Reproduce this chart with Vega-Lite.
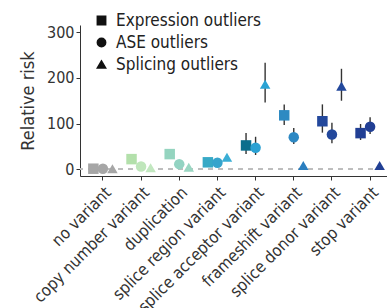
{
  "$schema": "https://vega.github.io/schema/vega-lite/v6.json",
  "autosize": "none",
  "width": 313,
  "height": 151,
  "padding": {"left": 80, "top": 25, "right": 0, "bottom": 132},
  "background": "white",
  "config": {
    "view": {"stroke": null},
    "font": "DejaVu Sans Condensed, Liberation Sans, sans-serif",
    "axis": {"grid": false, "domainColor": "#333333", "tickColor": "#333333", "labelColor": "#333333", "titleColor": "#333333", "labelFont": "DejaVu Sans Condensed, Liberation Sans, sans-serif", "titleFont": "DejaVu Sans Condensed, Liberation Sans, sans-serif", "titleFontWeight": "normal", "domainWidth": 1, "tickWidth": 1, "tickSize": 4}
  },
  "data": {
    "values": [
      {"variant": "no variant", "outlier": "Expression outliers", "rr": 1, "lo": null, "hi": null},
      {"variant": "no variant", "outlier": "ASE outliers", "rr": 1, "lo": null, "hi": null},
      {"variant": "no variant", "outlier": "Splicing outliers", "rr": 1, "lo": null, "hi": null},
      {"variant": "copy number variant", "outlier": "Expression outliers", "rr": 22, "lo": null, "hi": null},
      {"variant": "copy number variant", "outlier": "ASE outliers", "rr": 6, "lo": null, "hi": null},
      {"variant": "copy number variant", "outlier": "Splicing outliers", "rr": 3, "lo": null, "hi": null},
      {"variant": "duplication", "outlier": "Expression outliers", "rr": 33, "lo": 29, "hi": 38},
      {"variant": "duplication", "outlier": "ASE outliers", "rr": 11, "lo": null, "hi": null},
      {"variant": "duplication", "outlier": "Splicing outliers", "rr": 4, "lo": null, "hi": null},
      {"variant": "splice region variant", "outlier": "Expression outliers", "rr": 15, "lo": null, "hi": null},
      {"variant": "splice region variant", "outlier": "ASE outliers", "rr": 14, "lo": null, "hi": null},
      {"variant": "splice region variant", "outlier": "Splicing outliers", "rr": 26, "lo": null, "hi": null},
      {"variant": "splice acceptor variant", "outlier": "Expression outliers", "rr": 52, "lo": 33, "hi": 79},
      {"variant": "splice acceptor variant", "outlier": "ASE outliers", "rr": 47, "lo": 31, "hi": 71},
      {"variant": "splice acceptor variant", "outlier": "Splicing outliers", "rr": 186, "lo": 146, "hi": 233},
      {"variant": "frameshift variant", "outlier": "Expression outliers", "rr": 118, "lo": 97, "hi": 142},
      {"variant": "frameshift variant", "outlier": "ASE outliers", "rr": 70, "lo": 55, "hi": 90},
      {"variant": "frameshift variant", "outlier": "Splicing outliers", "rr": 8, "lo": null, "hi": null},
      {"variant": "splice donor variant", "outlier": "Expression outliers", "rr": 105, "lo": 80, "hi": 142},
      {"variant": "splice donor variant", "outlier": "ASE outliers", "rr": 76, "lo": 57, "hi": 102},
      {"variant": "splice donor variant", "outlier": "Splicing outliers", "rr": 182, "lo": 150, "hi": 220},
      {"variant": "stop variant", "outlier": "Expression outliers", "rr": 79, "lo": 64, "hi": 99},
      {"variant": "stop variant", "outlier": "ASE outliers", "rr": 93, "lo": 77, "hi": 114},
      {"variant": "stop variant", "outlier": "Splicing outliers", "rr": 8, "lo": null, "hi": null}
    ]
  },
  "transform": [{"calculate": "datum.variant + '|' + datum.outlier", "as": "key"}],
  "encoding": {
    "x": {
      "field": "variant", "type": "nominal",
      "scale": {"type": "band", "paddingInner": 0, "paddingOuter": 0.1, "domain": ["no variant", "copy number variant", "duplication", "splice region variant", "splice acceptor variant", "frameshift variant", "splice donor variant", "stop variant"]},
      "axis": {"title": null, "labelAngle": -45, "labelAlign": "right", "labelBaseline": "top", "labelFontSize": 16.5, "labelPadding": 4}
    },
    "xOffset": {
      "field": "outlier", "type": "nominal",
      "scale": {"type": "point", "domain": ["Expression outliers", "ASE outliers", "Splicing outliers"], "padding": 1.72}
    }
  },
  "layer": [
    {
      "mark": {"type": "rule", "color": "#bdbdbd", "strokeWidth": 1.5, "strokeDash": [5, 5]},
      "encoding": {"x": null, "xOffset": null, "y": {"datum": 0}}
    },
    {
      "transform": [{"filter": "datum.lo != null"}],
      "mark": {"type": "rule", "color": "#333333", "strokeWidth": 1.4},
      "encoding": {
        "y": {"field": "lo", "type": "quantitative"},
        "y2": {"field": "hi"}
      }
    },
    {
      "mark": {"type": "point", "filled": true, "opacity": 1, "size": 110},
      "encoding": {
        "y": {
          "field": "rr", "type": "quantitative",
          "scale": {"domain": [-15, 316], "nice": false, "zero": false},
          "axis": {"title": "Relative risk", "values": [0, 100, 200, 300], "labelFontSize": 16, "titleFontSize": 18, "titlePadding": 9}
        },
        "shape": {
          "field": "outlier", "type": "nominal",
          "scale": {"domain": ["Expression outliers", "ASE outliers", "Splicing outliers"], "range": ["square", "circle", "triangle-up"]},
          "legend": {"title": null, "orient": "none", "legendX": 13, "legendY": -13, "labelFontSize": 17, "labelColor": "#222222", "symbolFillColor": "#111111", "symbolStrokeColor": "#111111", "symbolSize": 70, "rowPadding": 4, "labelOffset": 6, "labelFont": "DejaVu Sans Condensed, Liberation Sans, sans-serif"}
        },
        "color": {
          "field": "key", "type": "nominal", "legend": null,
          "scale": {
            "domain": [
              "no variant|Expression outliers", "no variant|ASE outliers", "no variant|Splicing outliers",
              "copy number variant|Expression outliers", "copy number variant|ASE outliers", "copy number variant|Splicing outliers",
              "duplication|Expression outliers", "duplication|ASE outliers", "duplication|Splicing outliers",
              "splice region variant|Expression outliers", "splice region variant|ASE outliers", "splice region variant|Splicing outliers",
              "splice acceptor variant|Expression outliers", "splice acceptor variant|ASE outliers", "splice acceptor variant|Splicing outliers",
              "frameshift variant|Expression outliers", "frameshift variant|ASE outliers", "frameshift variant|Splicing outliers",
              "splice donor variant|Expression outliers", "splice donor variant|ASE outliers", "splice donor variant|Splicing outliers",
              "stop variant|Expression outliers", "stop variant|ASE outliers", "stop variant|Splicing outliers"
            ],
            "range": [
              "#a6a6a6", "#a6a6a6", "#a6a6a6",
              "#b3e0ab", "#bfe6bb", "#c2e7c0",
              "#94d4bf", "#93d3c2", "#9ad6c2",
              "#37a9c6", "#36a4cc", "#3aaed5",
              "#0b6e8c", "#2aa1d3", "#2aa3d4",
              "#2d8ac2", "#2d88c3", "#2a7ebf",
              "#23489c", "#23489c", "#23489c",
              "#213f94", "#213f94", "#213f94"
            ]
          }
        }
      }
    }
  ]
}
